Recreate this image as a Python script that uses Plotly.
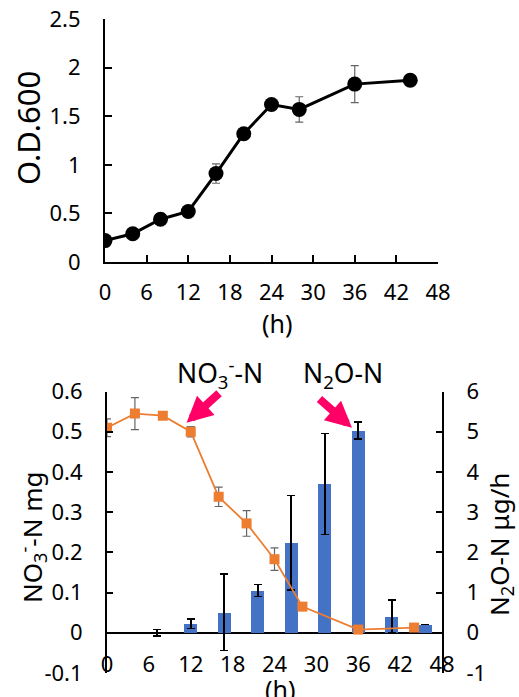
import plotly.graph_objects as go

W, H = 519, 697

# ---------------- data ----------------
hours = [0, 4, 8, 12, 16, 20, 24, 28, 36, 44]
od600 = [0.22, 0.29, 0.44, 0.52, 0.91, 1.32, 1.62, 1.57, 1.83, 1.87]
od600_err = [None, None, None, None, 0.10, None, None, 0.13, 0.19, None]

no3_mg = [0.51, 0.545, 0.54, 0.50, 0.338, 0.272, 0.183, 0.065, 0.008, 0.013]
no3_err = [0.022, 0.04, None, 0.013, 0.024, 0.032, 0.028, None, None, None]

n2o_samples = ["s0", "s1", "s2", "s3", "s4", "s5", "s6", "s7", "s8", "s9"]
n2o_ug_h = [0, 0.0, 0.23, 0.51, 1.05, 2.24, 3.70, 5.03, 0.41, 0.21]
n2o_err = [None, 0.08, 0.12, 0.95, 0.15, 1.17, 1.26, 0.21, 0.41, None]

hour_ticks = [0, 6, 12, 18, 24, 30, 36, 42, 48]
od_ticks = [0, 0.5, 1, 1.5, 2, 2.5]
od_ticktext = ["0", "0.5", "1", "1.5", "2", "2.5"]
no3_ticks = [-0.1, 0, 0.1, 0.2, 0.3, 0.4, 0.5, 0.6]
no3_ticktext = ["-0.1", "0", "0.1", "0.2", "0.3", "0.4", "0.5", "0.6"]
n2o_ticks = [-1, 0, 1, 2, 3, 4, 5, 6]
n2o_ticktext = ["-1", "0", "1", "2", "3", "4", "5", "6"]

FONT = "Noto Sans"
TICK = dict(family=FONT, size=22, color="black")

def px_x(p):
    return p / W

def px_y(p):
    return 1 - p / H

fig = go.Figure()

# ---- top panel: OD600 ----
fig.add_trace(go.Scatter(
    x=hours, y=od600, mode="lines+markers",
    line=dict(color="black", width=3),
    marker=dict(symbol="circle", size=15, color="black"),
    error_y=dict(type="data", array=od600_err, color="#666666", thickness=1.2, width=4),
    xaxis="x", yaxis="y", showlegend=False,
))

# ---- bottom panel: N2O bars (main subplot, right axis) ----
fig.add_trace(go.Bar(
    x=n2o_samples, y=n2o_ug_h, width=0.4,
    marker=dict(color="#4472C4", line=dict(width=0)),
    error_y=dict(type="data", array=n2o_err, color="black", thickness=1.6, width=4),
    xaxis="x2", yaxis="y2", showlegend=False,
))

# ---- bottom panel: NO3 line (overlay, left axis) ----
fig.add_trace(go.Scatter(
    x=hours, y=no3_mg, mode="lines+markers",
    line=dict(color="#ED7D31", width=1.8),
    marker=dict(symbol="square", size=10, color="#ED7D31"),
    error_y=dict(type="data", array=no3_err, color="#666666", thickness=1.2, width=4),
    xaxis="x3", yaxis="y3", showlegend=False,
))

top_dom_x = [px_x(105), px_x(438)]
top_dom_y = [px_y(262), px_y(19)]
bot_dom_x = [px_x(107), px_x(442)]
bot_dom_y = [px_y(673), px_y(391.5)]

axis_common = dict(showgrid=False, zeroline=False, linecolor="black", linewidth=2,
                   tickcolor="black", tickwidth=2, tickfont=TICK, automargin=False)

fig.update_layout(
    width=W, height=H, autosize=False,
    margin=dict(l=0, r=0, t=0, b=0, pad=0, autoexpand=False),
    paper_bgcolor="white", plot_bgcolor="white",
    font=dict(family=FONT, color="black"),
    bargap=0,
    xaxis=dict(domain=top_dom_x, anchor="y", range=[0, 48], tickvals=hour_ticks,
               showline=True, ticks="inside", ticklen=7, ticklabelstandoff=10,
               **axis_common),
    yaxis=dict(domain=top_dom_y, anchor="x", range=[0, 2.5], tickvals=od_ticks,
               ticktext=od_ticktext, showline=True, ticks="inside", ticklen=7,
               ticklabelstandoff=18, **axis_common),
    xaxis2=dict(domain=bot_dom_x, anchor="y2", range=[-0.5, 9.5], visible=False,
                type="category", automargin=False),
    yaxis2=dict(domain=bot_dom_y, anchor="x2", side="right", range=[-1, 6],
                tickvals=n2o_ticks, ticktext=n2o_ticktext, showline=True,
                ticks="inside", ticklen=6, ticklabelstandoff=18,
                showgrid=False, zeroline=True, zerolinecolor="black", zerolinewidth=2,
                linecolor="black", linewidth=2, tickcolor="black", tickwidth=2,
                tickfont=TICK, automargin=False),
    xaxis3=dict(overlaying="x2", anchor="free", position=px_y(649), range=[0, 48],
                tickvals=hour_ticks, showline=False, ticks="", **axis_common),
    yaxis3=dict(overlaying="y2", anchor="x3", side="left", range=[-0.1, 0.6],
                tickvals=no3_ticks, ticktext=no3_ticktext, showline=True,
                ticks="inside", ticklen=6, ticklabelstandoff=18, **axis_common),
)

# ---- axis titles ----
titles = [
    dict(text="O.D.600", x=px_x(28), y=px_y(128), textangle=-90, size=31),
    dict(text="(h)", x=px_x(277), y=px_y(323), textangle=0, size=25),
    dict(text="(h)", x=px_x(280), y=px_y(689), textangle=0, size=25),
    dict(text="NO<sub>3</sub><sup>-</sup>-N mg", x=px_x(32), y=px_y(537), textangle=-90, size=26),
    dict(text="N<sub>2</sub>O-N μg/h", x=px_x(500), y=px_y(545), textangle=-90, size=26),
    dict(text="NO<sub>3</sub><sup>-</sup>-N", x=px_x(220), y=px_y(373), textangle=0, size=26.5),
    dict(text="N<sub>2</sub>O-N", x=px_x(343), y=px_y(375), textangle=0, size=26.5),
]
for t in titles:
    fig.add_annotation(text=t["text"], x=t["x"], y=t["y"], xref="paper", yref="paper",
                       xanchor="center", yanchor="middle", showarrow=False,
                       textangle=t["textangle"], font=dict(family=FONT, size=t["size"], color="black"))

# ---- pink arrows ----
PINK = "#FF0066"
fig.add_annotation(x=11.4, y=0.522, xref="x3", yref="y3", ax=34, ay=-31,
                   text="", showarrow=True, arrowhead=2, arrowsize=0.65, arrowwidth=8,
                   arrowcolor=PINK)
fig.add_annotation(x=35.1, y=0.51, xref="x3", yref="y3", ax=-34, ay=-30,
                   text="", showarrow=True, arrowhead=2, arrowsize=0.65, arrowwidth=8,
                   arrowcolor=PINK)

fig.write_html("out.html", config={"displayModeBar": False},
               post_script="document.body.style.margin='0';document.body.style.overflow='hidden';")
